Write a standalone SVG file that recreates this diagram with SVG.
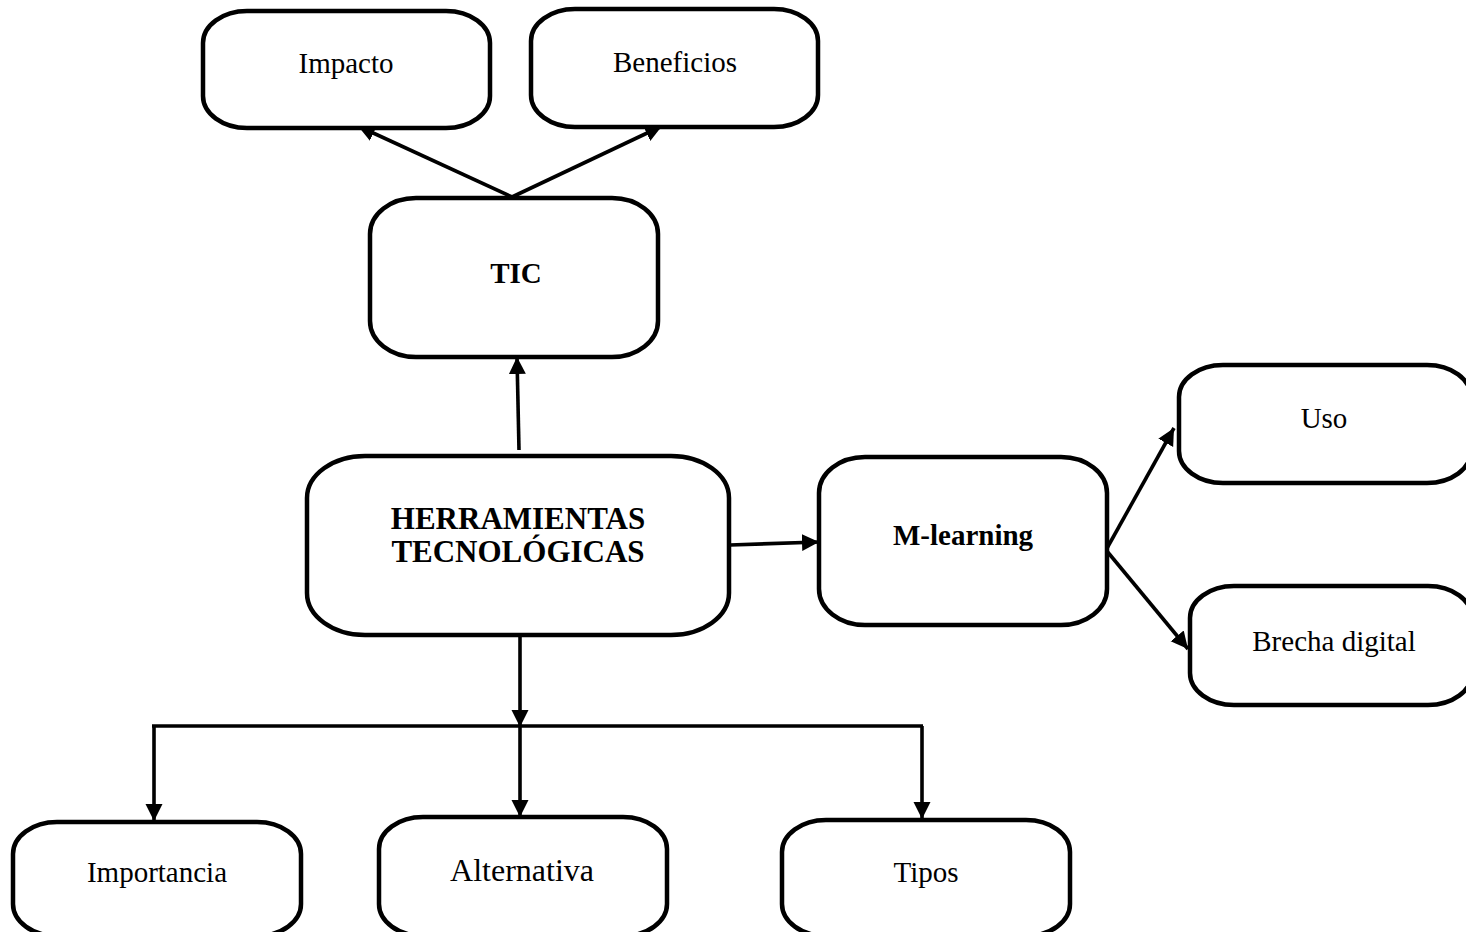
<svg xmlns="http://www.w3.org/2000/svg" width="1466" height="932" viewBox="0 0 1466 932">
  <style>
    .box { fill: #ffffff; stroke: #000000; stroke-width: 4.5; }
    .lbl { font-family: "Liberation Serif", "Times New Roman", serif; font-size: 29px; fill: #000000; text-anchor: middle; }
    .bold { font-weight: bold; }
    .link { fill: none; stroke: #000000; stroke-width: 3.6; }
  </style>
  <defs>
    <marker id="arrow" markerUnits="userSpaceOnUse" markerWidth="20" markerHeight="20" refX="17" refY="8.5" orient="auto">
      <path d="M0,0 L17,8.5 L0,17 Z" fill="#000000"/>
    </marker>
  </defs>

  <rect width="1466" height="932" fill="#ffffff"/>

  <!-- connectors -->
  <g id="connectors">
    <line class="link" x1="512" y1="197" x2="358" y2="126" marker-end="url(#arrow)"/>
    <line class="link" x1="512" y1="197" x2="662" y2="126" marker-end="url(#arrow)"/>
    <line class="link" x1="519" y1="450" x2="517" y2="357" marker-end="url(#arrow)"/>
    <line class="link" x1="730" y1="545" x2="819" y2="542" marker-end="url(#arrow)"/>
    <line class="link" x1="1106" y1="550" x2="1174" y2="428" marker-end="url(#arrow)"/>
    <line class="link" x1="1106" y1="550" x2="1188" y2="649" marker-end="url(#arrow)"/>
    <line class="link" x1="520" y1="636" x2="520" y2="727" marker-end="url(#arrow)"/>
    <polyline class="link" points="152,726 923,726"/>
    <line class="link" x1="154" y1="726" x2="154" y2="821" marker-end="url(#arrow)"/>
    <line class="link" x1="520" y1="726" x2="520" y2="817" marker-end="url(#arrow)"/>
    <line class="link" x1="922" y1="726" x2="922" y2="819" marker-end="url(#arrow)"/>
  </g>

  <g id="node-impacto">
    <rect class="box" x="203" y="11" width="287" height="117" rx="44" ry="32"/>
    <text class="lbl" x="346" y="73">Impacto</text>
  </g>
  <g id="node-beneficios">
    <rect class="box" x="531" y="9" width="287" height="118" rx="44" ry="32"/>
    <text class="lbl" x="675" y="72">Beneficios</text>
  </g>
  <g id="node-tic">
    <rect class="box" x="370" y="198" width="288" height="159" rx="46" ry="36"/>
    <text class="lbl bold" x="516" y="283">TIC</text>
  </g>
  <g id="node-herramientas">
    <rect class="box" x="307" y="456" width="422" height="179" rx="58" ry="42"/>
    <text class="lbl bold" x="518" y="529" style="font-size:31px">HERRAMIENTAS</text>
    <text class="lbl bold" x="518" y="562" style="font-size:31px">TECNOLÓGICAS</text>
  </g>
  <g id="node-mlearning">
    <rect class="box" x="819" y="457" width="288" height="168" rx="46" ry="36"/>
    <text class="lbl bold" x="963" y="545">M-learning</text>
  </g>
  <g id="node-uso">
    <rect class="box" x="1179" y="365" width="292" height="118" rx="44" ry="32"/>
    <text class="lbl" x="1324" y="428">Uso</text>
  </g>
  <g id="node-brecha">
    <rect class="box" x="1190" y="586" width="282" height="119" rx="44" ry="32"/>
    <text class="lbl" x="1334" y="651">Brecha digital</text>
  </g>
  <g id="node-importancia">
    <rect class="box" x="13" y="822" width="288" height="114" rx="44" ry="32"/>
    <text class="lbl" x="157" y="882">Importancia</text>
  </g>
  <g id="node-alternativa">
    <rect class="box" x="379" y="817" width="288" height="119" rx="44" ry="32"/>
    <text class="lbl" x="522" y="881" style="font-size:32px">Alternativa</text>
  </g>
  <g id="node-tipos">
    <rect class="box" x="782" y="820" width="288" height="116" rx="44" ry="32"/>
    <text class="lbl" x="926" y="882">Tipos</text>
  </g>
</svg>
